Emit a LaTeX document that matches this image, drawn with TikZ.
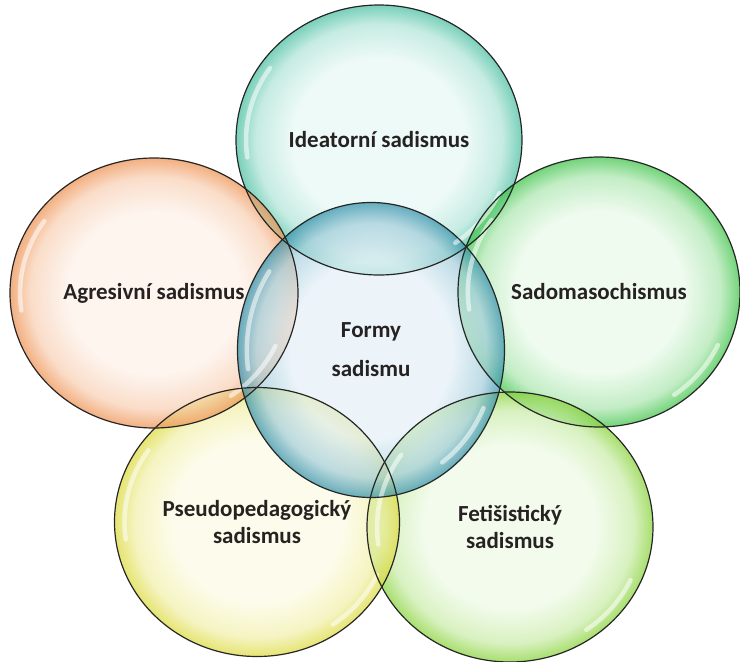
\documentclass[tikz,border=0pt]{standalone}
\usepackage{fontspec}
\setmainfont{Carlito}
\usetikzlibrary{shapes.geometric}

\definecolor{ideatin}{RGB}{232,248,244}  \definecolor{ideatout}{RGB}{70,190,160}
\definecolor{sadomin}{RGB}{232,249,232}  \definecolor{sadomout}{RGB}{60,195,70}
\definecolor{fetiin}{RGB}{238,250,230}   \definecolor{fetiout}{RGB}{135,210,55}
\definecolor{pseudoin}{RGB}{252,251,228} \definecolor{pseudoout}{RGB}{220,218,60}
\definecolor{agresin}{RGB}{253,241,233}  \definecolor{agresout}{RGB}{238,145,80}
\definecolor{formyin}{RGB}{228,240,247}  \definecolor{formyout}{RGB}{50,145,170}
\definecolor{labeltext}{RGB}{38,34,34}

\colorlet{bubblein}{white}
\colorlet{bubbleout}{gray}
\pgfdeclareradialshading[bubblein,bubbleout]{bubble}{\pgfpoint{0bp}{0bp}}{%
  color(0bp)=(bubblein); color(15bp)=(bubblein);
  color(21.5bp)=(bubbleout!35!bubblein); color(25bp)=(bubbleout);
  color(50bp)=(bubbleout)}

\tikzset{%
  bubble colors/.code 2 args={\colorlet{bubblein}{#1}\colorlet{bubbleout}{#2}},
  every bubble/.style={
    ellipse,
    shade,
    shading=bubble,
    fill opacity=0.72,
    inner sep=0pt,
    outer sep=0pt
  },
  bubble ideat/.style={bubble colors={ideatin}{ideatout}},
  bubble sadom/.style={bubble colors={sadomin}{sadomout}},
  bubble feti/.style={bubble colors={fetiin}{fetiout}},
  bubble pseudo/.style={bubble colors={pseudoin}{pseudoout}},
  bubble agres/.style={bubble colors={agresin}{agresout}},
  bubble formy/.style={bubble colors={formyin}{formyout}},
  bubble gloss/.style={
    white,
    draw opacity=0.55,
    line width=4.5pt,
    line cap=round
  },
  bubble edge/.style={
    draw=black!85,
    line width=1.2pt
  },
  bubble label/.style={
    align=center,
    text=labeltext,
    font=\fontsize{23}{27}\selectfont\bfseries
  },
}

\def\bubbles{ideat/379/140/286/270, sadom/599/292/282/270,
    feti/510/527/286/270, pseudo/257/522/285/269, agres/154/293/288/270,
    formy/371/350/267/295}

\begin{document}
\begin{tikzpicture}[x=1pt, y=-1pt]
\useasboundingbox (0,0) rectangle (740,662);

\foreach \m/\x/\y/\w/\h in \bubbles
  \node [every bubble, bubble \m, minimum width=\w pt, minimum height=\h pt]
    (bubble-\m) at (\x,\y) {};

% gloss on the rims
\foreach \m/\x/\y/\w/\h in \bubbles {
  \draw [bubble gloss] (bubble-\m.center) ++(172:{0.465*\w} and {0.465*\h})
    arc [start angle=172, end angle=215, x radius=0.465*\w, y radius=0.465*\h];
  \draw [bubble gloss] (bubble-\m.center) ++(25:{0.465*\w} and {0.465*\h})
    arc [start angle=25, end angle=55, x radius=0.465*\w, y radius=0.465*\h];
}

\foreach \m/\x/\y/\w/\h in \bubbles
  \draw [bubble edge] (bubble-\m.center) ellipse [x radius=\w/2, y radius=\h/2];

\foreach \m/\l in {ideat/{Ideatorní sadismus}, sadom/Sadomasochismus,
    feti/{Fetišistický\\sadismus}, pseudo/{Pseudopedagogický\\sadismus},
    agres/{Agresivní sadismus}, formy/{Formy\\[12pt]sadismu}}
  \node [bubble label] (label-\m) at (bubble-\m) {\l};

\end{tikzpicture}
\end{document}
